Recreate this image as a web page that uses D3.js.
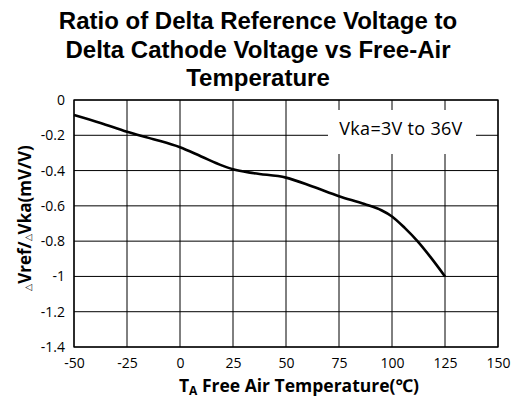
<!DOCTYPE html>
<html>
<head>
<meta charset="utf-8">
<script src="https://cdn.jsdelivr.net/npm/d3@7"></script>
<style>
  body { margin: 0; background: #fff; }
  svg { display: block; }
</style>
</head>
<body>
<script>
// chart data
var temps = [-50, -37.5, -25, -12.5, 0, 10, 20, 25, 35, 50, 62.5, 75, 87, 95, 100, 106, 112, 118, 125];
var ratio = [-0.085, -0.13, -0.18, -0.222, -0.268, -0.32, -0.372, -0.393, -0.415, -0.44, -0.49, -0.545, -0.59, -0.625, -0.66, -0.725, -0.8, -0.888, -1.0];
var xTicks = [-50, -25, 0, 25, 50, 75, 100, 125, 150];
var yTicks = [0, -0.2, -0.4, -0.6, -0.8, -1, -1.2, -1.4];
var yTickLabels = ['0', '-0.2', '-0.4', '-0.6', '-0.8', '-1', '-1.2', '-1.4'];
var titleLines = ['Ratio of Delta Reference Voltage to', 'Delta Cathode Voltage vs Free-Air', 'Temperature'];
var noteText = 'Vka=3V to 36V';

function drawChart(){
    var width = 515,
        height = 401;
    var left = 74, right = 498, top = 100, bottom = 347;

    var svg = d3.select('body')
        .append('svg')
        .attr('width', width)
        .attr('height', height);

    var x = d3.scaleLinear().domain([-50, 150]).range([left, right]);
    var y = d3.scaleLinear().domain([0, -1.4]).range([top, bottom]);

    //title
    svg.append('g').selectAll('text')
        .data(titleLines)
        .enter()
        .append('text')
        .attr('x', 258)
        .attr('y', function(d, i){ return 29 + i * 28.5; })
        .attr('text-anchor', 'middle')
        .style('font-family', 'Liberation Sans, Arial, sans-serif')
        .style('font-weight', 'bold')
        .style('font-size', '24px')
        .text(function(d){ return d; });

    //grid lines
    svg.append('g').selectAll('line')
        .data(xTicks)
        .enter()
        .append('line')
        .attr('x1', function(d){ return x(d); })
        .attr('x2', function(d){ return x(d); })
        .attr('y1', top)
        .attr('y2', bottom)
        .attr('stroke', '#000')
        .attr('stroke-width', 1);
    svg.append('g').selectAll('line')
        .data(yTicks)
        .enter()
        .append('line')
        .attr('x1', left)
        .attr('x2', right)
        .attr('y1', function(d){ return y(d); })
        .attr('y2', function(d){ return y(d); })
        .attr('stroke', '#000')
        .attr('stroke-width', 1);

    //frame
    svg.append('rect')
        .attr('x', left)
        .attr('y', top)
        .attr('width', right - left)
        .attr('height', bottom - top)
        .attr('fill', 'none')
        .attr('stroke', '#000')
        .attr('stroke-width', 1.3);

    //note box covering grid
    svg.append('rect')
        .attr('x', 328)
        .attr('y', 110)
        .attr('width', 148)
        .attr('height', 44)
        .attr('fill', '#fff');
    svg.append('text')
        .attr('x', 401)
        .attr('y', 135)
        .attr('text-anchor', 'middle')
        .style('font-family', 'Open Sans, Noto Sans, sans-serif')
        .style('font-size', '18px')
        .style('letter-spacing', '0.3px')
        .text(noteText);

    //curve
    var line = d3.line()
        .x(function(d, i){ return x(temps[i]); })
        .y(function(d){ return y(d); })
        .curve(d3.curveMonotoneX);
    svg.append('path')
        .datum(ratio)
        .attr('d', line)
        .attr('fill', 'none')
        .attr('stroke', '#000')
        .attr('stroke-width', 2.6);

    //axes
    var xAxis = svg.append('g')
        .attr('transform', 'translate(0,' + bottom + ')')
        .call(d3.axisBottom(x).tickValues(xTicks).tickSize(0).tickPadding(11)
            .tickFormat(function(d){ return String(d); }));
    var yAxis = svg.append('g')
        .attr('transform', 'translate(' + left + ',0)')
        .call(d3.axisLeft(y).tickValues(yTicks).tickSize(0).tickPadding(9)
            .tickFormat(function(d, i){ return yTickLabels[i]; }));
    [xAxis, yAxis].forEach(function(a){
        a.select('.domain').remove();
        a.selectAll('text')
            .style('font-family', 'Open Sans, Noto Sans, sans-serif')
            .style('font-size', '14px')
            .attr('fill', '#000');
    });

    //axis titles
    var xt = svg.append('text')
        .attr('x', 299)
        .attr('y', 392)
        .attr('text-anchor', 'middle')
        .style('font-family', 'Open Sans, Noto Sans, sans-serif')
        .style('font-weight', 'bold')
        .style('font-size', '17.5px');
    xt.append('tspan').text('T');
    xt.append('tspan').attr('dy', 3).style('font-size', '12px').text('A');
    xt.append('tspan').attr('dy', -3).text(' Free Air Temperature(℃)');

    var yt = svg.append('text')
        .attr('transform', 'translate(31,218) rotate(-90)')
        .attr('text-anchor', 'middle')
        .style('font-family', 'Open Sans, Noto Sans, sans-serif')
        .style('font-weight', 'bold')
        .style('font-size', '17px');
    yt.append('tspan').style('font-size', '9px').style('font-weight', 'normal').text('△');
    yt.append('tspan').text('Vref/');
    yt.append('tspan').style('font-size', '9px').style('font-weight', 'normal').text('△');
    yt.append('tspan').text('Vka(mV/V)');
}

window.onload = drawChart();
</script>
</body>
</html>
